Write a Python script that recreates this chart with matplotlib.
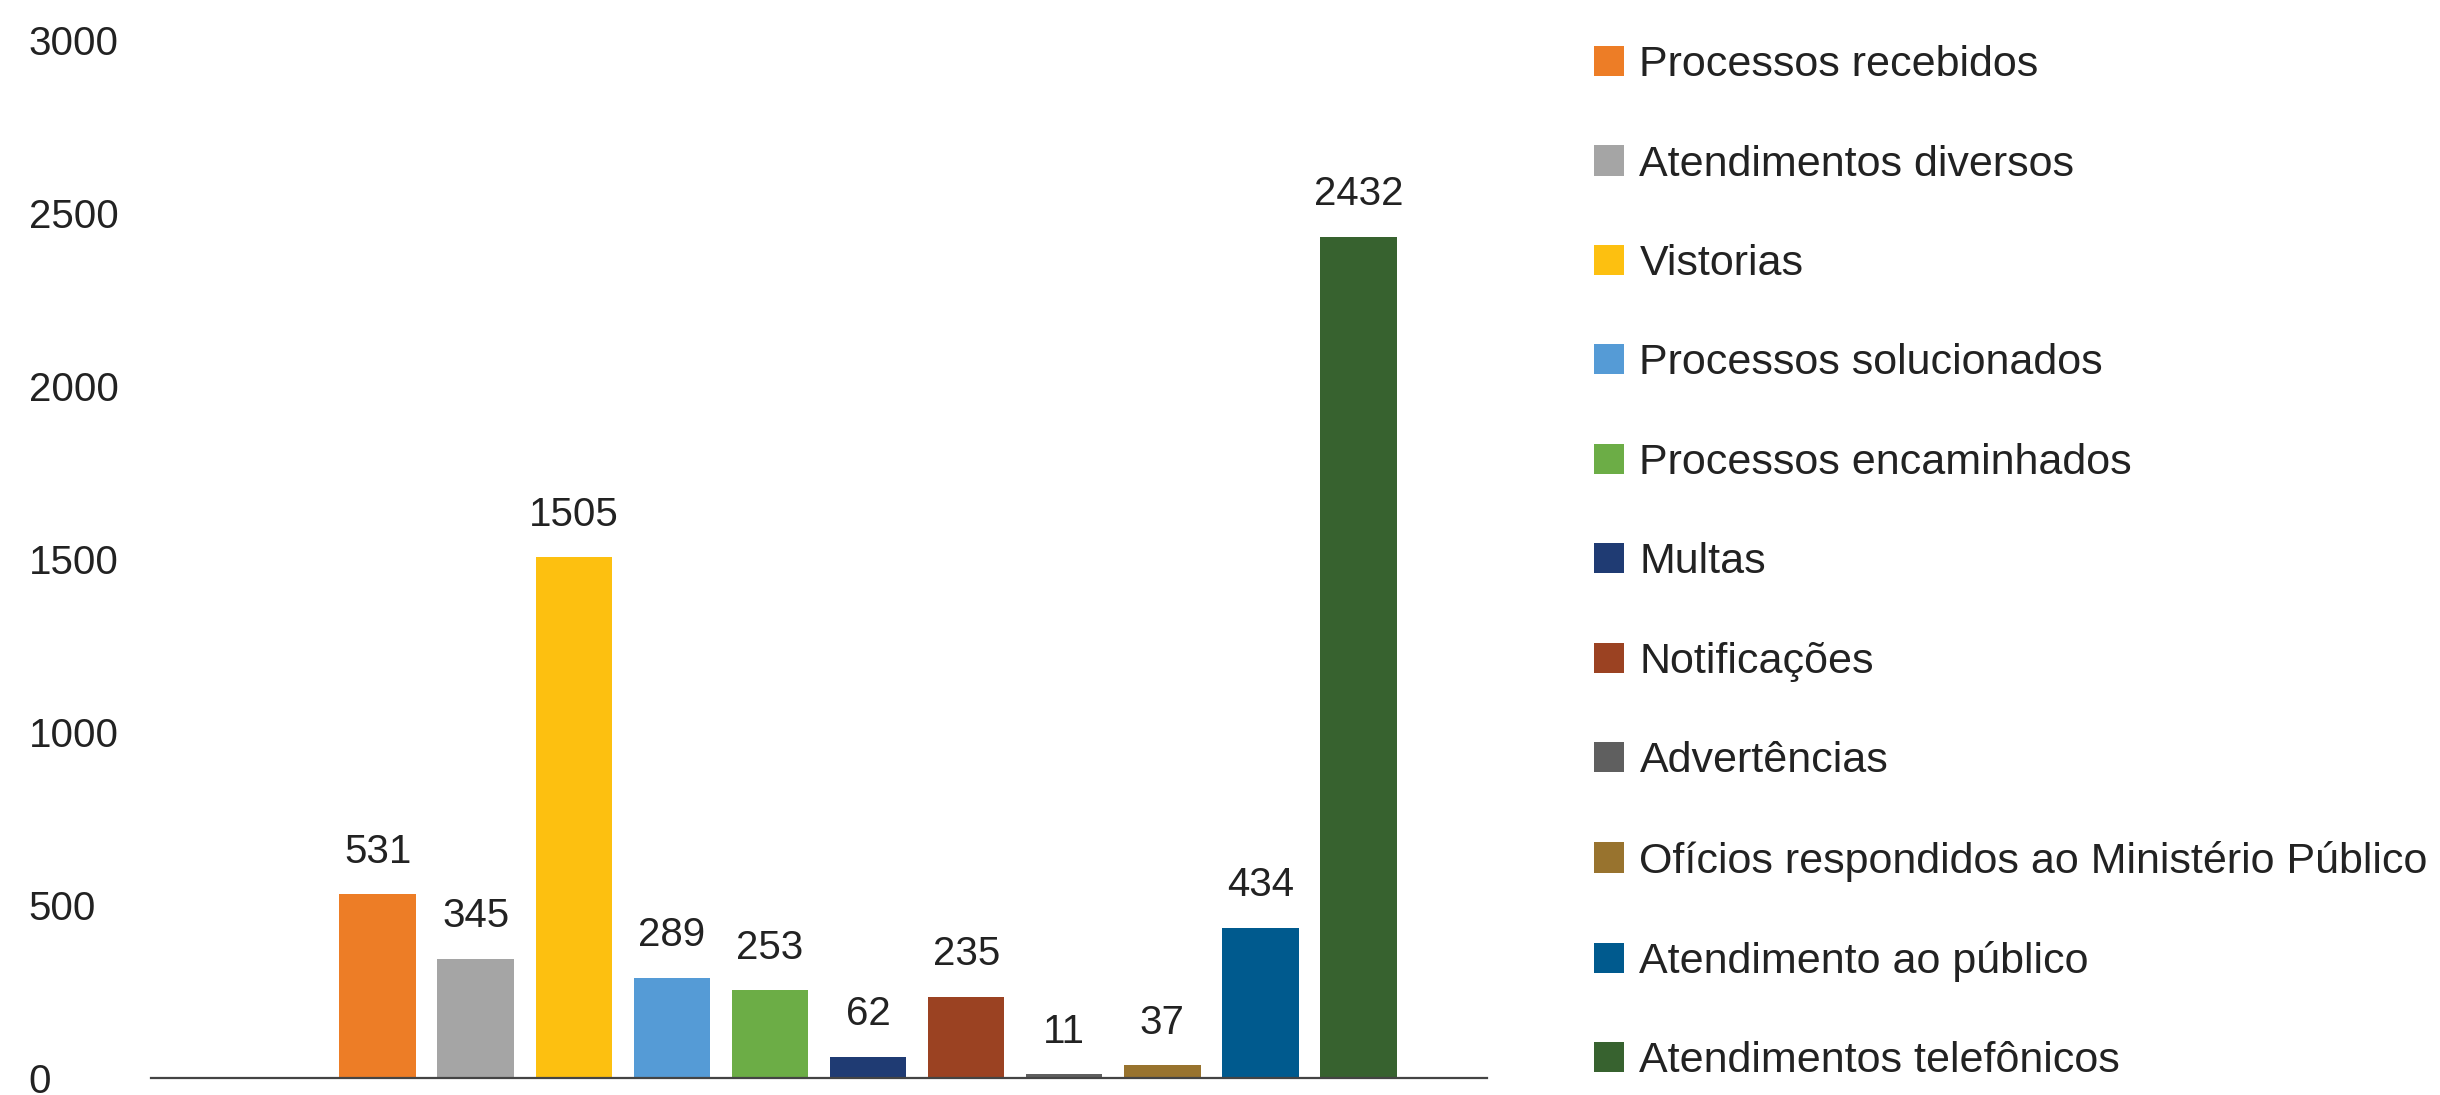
import matplotlib.pyplot as plt

plt.rcParams["font.family"] = ["Liberation Sans", "DejaVu Sans"]

# data
categories = [
    "Processos recebidos",
    "Atendimentos diversos",
    "Vistorias",
    "Processos solucionados",
    "Processos encaminhados",
    "Multas",
    "Notificações",
    "Advertências",
    "Ofícios respondidos ao Ministério Público",
    "Atendimento ao público",
    "Atendimentos telefônicos",
]
values = [531, 345, 1505, 289, 253, 62, 235, 11, 37, 434, 2432]
colors = ["#ED7D26", "#A5A5A5", "#FDC010", "#559BD6", "#6CAD46",
          "#1F3B73", "#9B4222", "#5F5F5F", "#98732E", "#005A8E", "#37622F"]
yticks = [0, 500, 1000, 1500, 2000, 2500, 3000]

fig = plt.figure(figsize=(24.4, 10.95), dpi=100)
ax = fig.add_axes([151 / 2440, 1 - 1078 / 1095, (1487 - 151) / 2440, (1078 - 40) / 1095])

positions = list(range(len(values)))
handles = []
for x, v, c, name in zip(positions, values, colors, categories):
    b = ax.bar(x, v, width=0.78, color=c, label=name)
    handles.append(b)
    ax.annotate(str(v), (x, v), xytext=(0, 17), textcoords="offset points",
                ha="center", va="bottom", fontsize=29, color="#222222")

# leave room on the left like the original
ax.set_xlim(-2.31, 11.31)
ax.set_ylim(0, 3000)
ax.set_yticks(yticks)
ax.set_yticklabels([str(t) for t in yticks], ha="left")
ax.tick_params(axis="y", length=0, pad=88, labelsize=29, labelcolor="#222222")
ax.set_xticks([])
for s in ["top", "right", "left"]:
    ax.spines[s].set_visible(False)
ax.spines["bottom"].set_color("#444444")
ax.spines["bottom"].set_linewidth(1.6)

fig.legend(handles=handles, labels=categories, loc="upper left",
           bbox_to_anchor=(1577 / 2440, 1 - 28 / 1095), frameon=False,
           fontsize=31, handlelength=0.7, handleheight=0.7,
           handletextpad=0.35, labelspacing=1.38, borderaxespad=0,
           labelcolor="#222222")

fig.savefig("out.png", dpi=100)
